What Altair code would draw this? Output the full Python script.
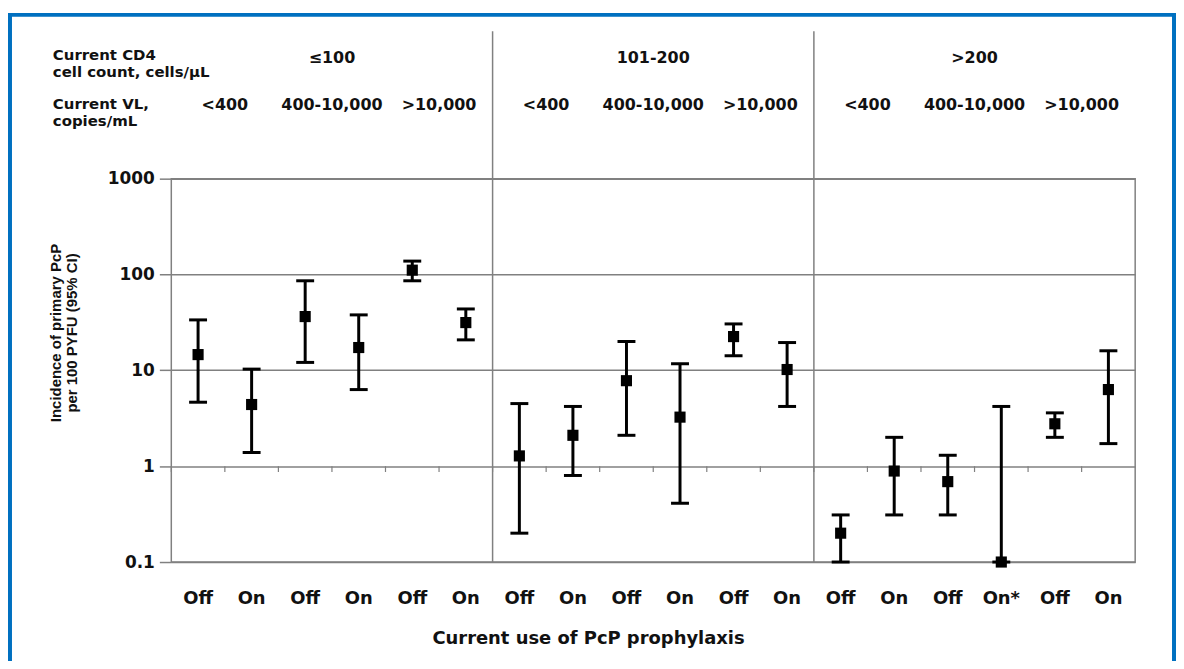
import altair as alt
import pandas as pd

# ---- data ----
cd4_groups = ["≤100", "101-200", ">200"]
vl_levels = ["<400", "400-10,000", ">10,000"]
prophylaxis = ["Off", "On", "Off", "On", "Off", "On",
               "Off", "On", "Off", "On", "Off", "On",
               "Off", "On", "Off", "On*", "Off", "On"]
incidence = [14.6, 4.4, 36.4, 17.3, 111, 31.5,
             1.28, 2.1, 7.8, 3.25, 22.5, 10.2,
             0.2, 0.89, 0.69, 0.1, 2.77, 6.3]
ci_low = [4.65, 1.39, 12.1, 6.3, 86, 20.8,
          0.2, 0.8, 2.1, 0.41, 14.2, 4.2,
          0.1, 0.31, 0.31, 0.1, 2.0, 1.72]
ci_high = [33.6, 10.3, 86, 37.9, 138, 43.7,
           4.5, 4.2, 20, 11.7, 30.5, 19.5,
           0.31, 2.0, 1.3, 4.2, 3.6, 16]
y_ticks = [0.1, 1, 10, 100, 1000]

ids = list(range(len(prophylaxis)))
df = pd.DataFrame({"id": ids, "label": prophylaxis, "est": incidence,
                   "lo": ci_low, "hi": ci_high})
cd4_df = pd.DataFrame({"id": [3, 9, 15], "label": cd4_groups})
vl_df = pd.DataFrame({"id": [1, 3, 5, 7, 9, 11, 13, 15, 17],
                      "label": vl_levels * 3})
sep_df = pd.DataFrame({"id": [6, 12]})
one = pd.DataFrame({"k": [0]})

W, H = 968, 385
FONT = "DejaVu Sans"
TXT = "#111111"
GRAY = "#808080"

xs = alt.Scale(type="band", domain=ids, paddingInner=0, paddingOuter=0)
ys = alt.Scale(type="log", domain=[0.1, 1000], nice=False)

xc = alt.X("id:O", scale=xs, axis=None, bandPosition=0.5)
xb = alt.X("id:O", scale=xs, axis=None, bandPosition=0)

yaxis = alt.Axis(values=y_ticks, format="~g", grid=True, gridColor=GRAY,
                 gridWidth=1.5, tickColor=GRAY, tickSize=12, tickWidth=1.5,
                 domain=False, labelFont=FONT, labelFontWeight="bold",
                 labelFontSize=17, labelColor=TXT, labelPadding=5, title=None)

base = alt.Chart(df)

bars = base.mark_rule(color="black", strokeWidth=3).encode(
    x=xc, y=alt.Y("lo:Q", scale=ys, axis=yaxis), y2="hi:Q")
cap_lo = base.mark_tick(orient="horizontal", color="black", size=18,
                        thickness=3, opacity=1).encode(
    x=xc, y=alt.Y("lo:Q", scale=ys))
cap_hi = base.mark_tick(orient="horizontal", color="black", size=18,
                        thickness=3, opacity=1).encode(
    x=xc, y=alt.Y("hi:Q", scale=ys))
pts = base.mark_square(size=125, color="black", opacity=1, filled=True).encode(
    x=xc, y=alt.Y("est:Q", scale=ys))

minor = base.mark_rule(color=GRAY, strokeWidth=1.2).encode(
    x=xb, y=alt.datum(1, scale=ys), y2=alt.datum(0.87))

xlabels = base.mark_text(font=FONT, fontWeight="bold", fontSize=18,
                         color=TXT, baseline="alphabetic").encode(
    x=xc, y=alt.value(427), text="label:N")

seps = alt.Chart(sep_df).mark_rule(color=GRAY, strokeWidth=1.5).encode(
    x=xb, y=alt.value(-148), y2=alt.value(H))

cd4_txt = alt.Chart(cd4_df).mark_text(font=FONT, fontWeight="bold",
                                      fontSize=16, color=TXT,
                                      baseline="alphabetic").encode(
    x=xb, y=alt.value(-116), text="label:N")
vl_txt = alt.Chart(vl_df).mark_text(font=FONT, fontWeight="bold",
                                    fontSize=16, color=TXT,
                                    baseline="alphabetic").encode(
    x=xb, y=alt.value(-69), text="label:N")

hdr1 = alt.Chart(one).mark_text(text=["Current CD4", "cell count, cells/μL"],
                                font=FONT, fontWeight="bold", fontSize=15,
                                lineHeight=17, color=TXT, align="left",
                                baseline="alphabetic").encode(
    x=alt.value(-119), y=alt.value(-119))
hdr2 = alt.Chart(one).mark_text(text=["Current VL,", "copies/mL"],
                                font=FONT, fontWeight="bold", fontSize=15,
                                lineHeight=17, color=TXT, align="left",
                                baseline="alphabetic").encode(
    x=alt.value(-119), y=alt.value(-70))

ytitle = alt.Chart(one).mark_text(
    text=["Incidence of primary PcP", "per 100 PYFU (95% CI)"],
    font="Liberation Sans", fontWeight="bold", fontSize=15, lineHeight=16,
    color=TXT, angle=270, align="center", baseline="middle").encode(
    x=alt.value(-116), y=alt.value(155))

xtitle = alt.Chart(one).mark_text(text="Current use of PcP prophylaxis",
                                  font=FONT, fontWeight="bold", fontSize=18,
                                  color=TXT, align="center",
                                  baseline="alphabetic").encode(
    x=alt.value(419), y=alt.value(467))

border = alt.Chart(one).mark_rect(filled=False, stroke="#0070C0",
                                  strokeWidth=4, fillOpacity=0).encode(
    x=alt.value(-162), x2=alt.value(1007), y=alt.value(-164.5),
    y2=alt.value(560))

chart = alt.layer(
    border, seps, minor, bars, cap_lo, cap_hi, pts, xlabels,
    cd4_txt, vl_txt, hdr1, hdr2, ytitle, xtitle
).properties(
    width=W, height=H,
    autosize=alt.AutoSizeParams(type="none"),
    padding={"left": 164, "top": 170, "right": 41, "bottom": 98},
    background="white",
).configure_view(stroke=GRAY, strokeWidth=1.5)

chart.save("out.html", embed_options={"renderer": "svg", "actions": False})
